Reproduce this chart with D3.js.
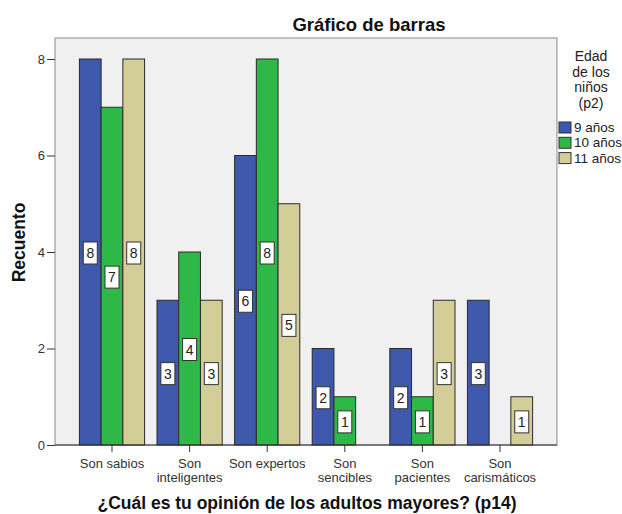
<!DOCTYPE html>
<html>
<head>
<meta charset="utf-8">
<script src="https://cdn.jsdelivr.net/npm/d3@7"></script>
<style>
  html, body { margin: 0; padding: 0; background: #fff; }
  svg { display: block; font-family: Arial, "Liberation Sans", sans-serif; }
</style>
</head>
<body>
<svg id="chart" width="622" height="514"></svg>
<script>
// Opinion categories (two-line labels split on "\n")
const categories = ["Son sabios", "Son\ninteligentes", "Son expertos", "Son\nsencibles", "Son\npacientes", "Son\ncarismáticos"];
const seriesNames = ["9 años", "10 años", "11 años"];
const values9 = [8, 3, 6, 2, 2, 3];
const values10 = [7, 4, 8, 1, 1, 0];
const values11 = [8, 3, 5, 0, 3, 1];
const yTicks = [0, 2, 4, 6, 8];
const colors = ["#3E58AC", "#2EB848", "#D3CE97"];

const series = [values9, values10, values11];
const FONT = "Arial, 'Liberation Sans', sans-serif";

const svg = d3.select("#chart");
const plot = { left: 55, right: 557, top: 38, bottom: 445 };

const x = d3.scaleBand()
  .domain(categories)
  .range([plot.left, plot.right])
  .paddingInner(0.16)
  .paddingOuter(0.3145);

const xSub = d3.scaleBand()
  .domain(seriesNames)
  .range([0, x.bandwidth()]);

const y = d3.scaleLinear()
  .domain([0, 8])
  .range([445, 59]);

// plot background and frame
svg.append("rect")
  .attr("x", plot.left).attr("y", plot.top)
  .attr("width", plot.right - plot.left).attr("height", plot.bottom - plot.top)
  .attr("fill", "#F0F0F0")
  .attr("stroke", "#8a8a8a").attr("stroke-width", 1);

// bars
const groups = svg.append("g").selectAll("g")
  .data(categories)
  .join("g")
  .attr("transform", d => `translate(${x(d)},0)`);

const barData = ci => seriesNames.map((s, si) => ({ s, si, v: series[si][ci] }));

groups.each(function(c, ci) {
  const g = d3.select(this);
  const data = barData(ci).filter(d => d.v > 0);
  g.selectAll("rect.bar")
    .data(data)
    .join("rect")
    .attr("class", "bar")
    .attr("x", d => xSub(d.s))
    .attr("y", d => y(d.v))
    .attr("width", xSub.bandwidth())
    .attr("height", d => y(0) - y(d.v))
    .attr("fill", d => colors[d.si])
    .attr("stroke", "#2b2b2b")
    .attr("stroke-width", 1);

  // value labels in white boxes at mid-height
  const lab = g.selectAll("g.lab")
    .data(data)
    .join("g")
    .attr("class", "lab")
    .attr("transform", d => `translate(${xSub(d.s) + xSub.bandwidth() / 2},${y(d.v / 2) + 1})`);
  lab.append("rect")
    .attr("x", -7).attr("y", -11)
    .attr("width", 14).attr("height", 22)
    .attr("fill", "#fff")
    .attr("stroke", "#333").attr("stroke-width", 1);
  lab.append("text")
    .attr("text-anchor", "middle")
    .attr("dy", "0.36em")
    .attr("font-size", 14)
    .attr("fill", "#222")
    .text(d => d.v);
});

// y axis
const yAxis = svg.append("g")
  .attr("transform", `translate(${plot.left},0)`)
  .call(d3.axisLeft(y).tickValues(yTicks).tickSize(8).tickPadding(2).tickFormat(d3.format("d")));
yAxis.select(".domain").remove();
yAxis.selectAll(".tick line").attr("stroke", "#333");
yAxis.selectAll(".tick text").attr("font-size", 13).attr("fill", "#333").attr("font-family", FONT);

// x axis
const xAxis = svg.append("g")
  .attr("transform", `translate(0,${plot.bottom})`)
  .call(d3.axisBottom(x).tickSize(7).tickFormat(""));
xAxis.select(".domain").attr("stroke", "#333").attr("d", `M${plot.left},0H${plot.right}`);
xAxis.selectAll(".tick line").attr("stroke", "#333");
xAxis.selectAll(".tick").each(function(d) {
  const lines = d.split("\n");
  const t = d3.select(this).append("text")
    .attr("text-anchor", "middle")
    .attr("font-size", 13)
    .attr("fill", "#333")
    .attr("font-family", FONT);
  lines.forEach((ln, i) => {
    t.append("tspan").attr("x", 0).attr("y", 23 + i * 13.5).text(ln);
  });
});

// title
svg.append("text")
  .attr("x", 369)
  .attr("y", 31)
  .attr("text-anchor", "middle")
  .attr("font-size", 18.5).attr("font-weight", "bold")
  .attr("fill", "#111")
  .text("Gráfico de barras");

// axis titles
svg.append("text")
  .attr("transform", `translate(25,242.5) rotate(-90)`)
  .attr("text-anchor", "middle")
  .attr("font-size", 17.5).attr("font-weight", "bold")
  .attr("fill", "#111")
  .text("Recuento");

svg.append("text")
  .attr("x", 307)
  .attr("y", 509)
  .attr("text-anchor", "middle")
  .attr("font-size", 17.5).attr("font-weight", "bold")
  .attr("fill", "#111")
  .text("¿Cuál es tu opinión de los adultos mayores? (p14)");

// legend
const legTitle = ["Edad", "de los", "niños", "(p2)"];
svg.append("text")
  .attr("text-anchor", "middle")
  .attr("font-size", 14)
  .attr("fill", "#222")
  .selectAll("tspan")
  .data(legTitle)
  .join("tspan")
  .attr("x", 591)
  .attr("y", (d, i) => 61 + i * 15.6)
  .text(d => d);

const leg = svg.append("g").selectAll("g")
  .data(seriesNames)
  .join("g")
  .attr("transform", (d, i) => `translate(559,${122 + i * 15.3})`);
leg.append("rect")
  .attr("width", 12).attr("height", 11)
  .attr("fill", (d, i) => colors[i])
  .attr("stroke", "#333").attr("stroke-width", 1);
leg.append("text")
  .attr("x", 15).attr("y", 10)
  .attr("font-size", 13.5)
  .attr("fill", "#222")
  .text(d => d);
</script>
</body>
</html>
